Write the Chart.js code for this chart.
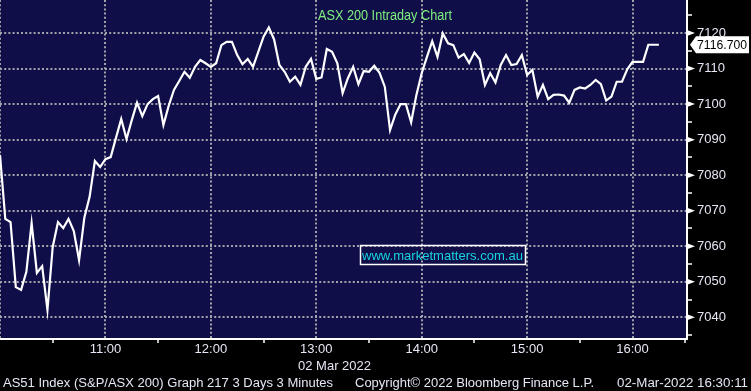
<!DOCTYPE html>
<html>
<head>
<meta charset="utf-8">
<script src="https://cdn.jsdelivr.net/npm/chart.js@4.4.1/dist/chart.umd.min.js"></script>
<style>
  html, body { margin: 0; padding: 0; background: #000; }
  canvas { display: block; }
</style>
</head>
<body>
<canvas id="chart" width="751" height="391"></canvas>
<script>
// AS51 intraday, 3 minute bars from 10:00
const startMinute = 10 * 60;
const barMinutes = 3;
const closes = [
  7085.7, 7067.7, 7066.8, 7048.5, 7047.7, 7052.8, 7066.5, 7052.5, 7054.4, 7042.1,
  7059.8, 7066.8, 7065.1, 7067.7, 7064.3, 7056.1, 7068.0, 7073.9, 7084.0, 7082.3,
  7084.5, 7085.1, 7090.5, 7095.8, 7090.2, 7095.5, 7100.4, 7096.6, 7100.0, 7101.4,
  7102.3, 7094.1, 7099.5, 7104.0, 7106.5, 7109.1, 7107.4, 7110.5, 7112.4, 7111.5,
  7110.5, 7111.5, 7116.6, 7117.5, 7117.5, 7113.8, 7111.2, 7112.7, 7110.5, 7114.7,
  7119.0, 7121.6, 7118.2, 7111.0, 7109.1, 7106.3, 7107.7, 7105.4, 7110.5, 7112.7,
  7107.1, 7107.5, 7115.5, 7114.7, 7111.5, 7103.1, 7107.3, 7110.5, 7105.6, 7109.3,
  7109.1, 7110.8, 7108.8, 7104.9, 7092.7, 7097.1, 7100.0, 7100.0, 7094.9, 7102.6,
  7108.7, 7113.3, 7117.7, 7113.3, 7119.9, 7117.1, 7116.6, 7113.1, 7114.1, 7111.6,
  7114.5, 7112.6, 7105.4, 7108.7, 7106.1, 7111.0, 7113.8, 7111.0, 7111.3, 7113.8,
  7108.2, 7109.6, 7102.1, 7105.4, 7101.4, 7102.6, 7102.7, 7102.4, 7100.4, 7104.0,
  7104.7, 7104.4, 7105.4, 7106.8, 7105.6, 7101.0, 7102.1, 7106.3, 7106.3, 7109.8,
  7111.9, 7111.9, 7111.9, 7116.7, 7116.7, 7116.7
];
const hourLabels = ['11:00', '12:00', '13:00', '14:00', '15:00', '16:00'];
const lastValue = '7116.700';

const titleText = 'ASX 200 Intraday Chart';
const watermarkText = 'www.marketmatters.com.au';
const dateText = '02 Mar 2022';
const footerLeft = 'AS51 Index (S&P/ASX 200) Graph 217 3 Days 3 Minutes';
const footerMid = 'Copyright\u00A9 2022 Bloomberg Finance L.P.';
const footerRight = '02-Mar-2022 16:30:11';

const points = closes.map((v, i) => ({ x: startMinute + i * barMinutes, y: v }));

const font = "'Liberation Sans', Arial, sans-serif";
const textColor = '#e6e6f5';
const gridColor = '#a2a2aa';

function fitText(ctx, text, x, y, w) {
  const m = ctx.measureText(text).width;
  ctx.save();
  ctx.translate(x, y);
  ctx.scale(w / m, 1);
  ctx.fillText(text, 0, 0);
  ctx.restore();
}

const decor = {
  id: 'decor',
  beforeDraw(chart) {
    const { ctx, chartArea: a } = chart;
    ctx.save();
    ctx.fillStyle = '#000';
    ctx.fillRect(0, 0, chart.width, chart.height);
    ctx.fillStyle = '#0f0e48';
    ctx.fillRect(a.left, a.top, a.right - a.left, a.bottom - a.top);
    ctx.restore();
  },
  afterDraw(chart) {
    const { ctx, chartArea: a } = chart;
    const ys = chart.scales.y;
    ctx.save();

    // arrow heads on the labelled ticks
    ctx.fillStyle = '#fff';
    ys.ticks.forEach(t => {
      if (t.value % 10 !== 0) return;
      const py = ys.getPixelForValue(t.value);
      ctx.beginPath();
      ctx.moveTo(a.right, py - 3);
      ctx.lineTo(a.right + 8, py);
      ctx.lineTo(a.right, py + 3);
      ctx.closePath();
      ctx.fill();
    });

    // last price tag
    const vy = ys.getPixelForValue(closes[closes.length - 1]);
    ctx.beginPath();
    ctx.moveTo(a.right + 3, vy);
    ctx.lineTo(a.right + 9, vy - 8.5);
    ctx.lineTo(749, vy - 8.5);
    ctx.lineTo(749, vy + 8.5);
    ctx.lineTo(a.right + 9, vy + 8.5);
    ctx.closePath();
    ctx.fillStyle = '#fff';
    ctx.fill();
    ctx.fillStyle = '#000';
    ctx.font = '13px ' + font;
    ctx.textBaseline = 'middle';
    fitText(ctx, lastValue, a.right + 10, vy + 0.5, 50);

    ctx.textBaseline = 'alphabetic';

    // title
    ctx.font = '14px ' + font;
    ctx.fillStyle = '#7fee7f';
    fitText(ctx, titleText, 318, 20, 134);

    // watermark box
    ctx.strokeStyle = '#fff';
    ctx.lineWidth = 1.5;
    ctx.strokeRect(360.5, 245.5, 165, 19);
    ctx.font = '13px ' + font;
    ctx.fillStyle = '#19d3e0';
    fitText(ctx, watermarkText, 362, 260, 161);

    // date under axis and footer
    ctx.fillStyle = textColor;
    ctx.font = '13px ' + font;
    fitText(ctx, dateText, 298, 370, 73);
    ctx.font = '12px ' + font;
    fitText(ctx, footerLeft, 3, 387, 330);
    fitText(ctx, footerMid, 355, 387, 239);
    fitText(ctx, footerRight, 617, 387, 131);

    ctx.restore();
  }
};

new Chart(document.getElementById('chart'), {
  type: 'line',
  data: {
    datasets: [{
      data: points,
      borderColor: '#ffffff',
      borderWidth: 2.2,
      pointRadius: 0,
      tension: 0,
      fill: false
    }]
  },
  options: {
    responsive: false,
    animation: false,
    devicePixelRatio: 1,
    layout: { padding: 0 },
    plugins: { legend: { display: false }, tooltip: { enabled: false } },
    scales: {
      x: {
        type: 'linear',
        min: 600,
        max: 991,
        afterFit: s => { s.height = 52; s.paddingLeft = 0; s.paddingRight = 0; },
        ticks: {
          stepSize: 30,
          includeBounds: false,
          autoSkip: false,
          maxRotation: 0,
          padding: -1,
          color: textColor,
          font: { family: font, size: 13 },
          callback: v => {
            const i = v / 60 - 11;
            return (v % 60 === 0 && i >= 0) ? hourLabels[i] : '';
          }
        },
        grid: {
          lineWidth: 2,
          tickLength: 4,
          tickWidth: 1.5,
          color: c => (c.tick && c.tick.value % 60 === 0) ? gridColor : 'transparent',
          tickColor: c => (c.tick && c.tick.value % 60 !== 0) ? '#fff' : 'transparent'
        },
        border: { display: true, color: '#fff', width: 2, dash: [2, 2.2] }
      },
      y: {
        position: 'right',
        min: 7033.9,
        max: 7129.3,
        afterFit: s => { s.width = 64; s.paddingTop = 0; s.paddingBottom = 0; },
        ticks: {
          stepSize: 5,
          includeBounds: false,
          autoSkip: false,
          padding: 5,
          color: textColor,
          font: { family: font, size: 13 },
          callback: v => (v % 10 === 0 ? String(v) : '')
        },
        grid: {
          lineWidth: 2,
          tickLength: 5,
          tickWidth: 1.5,
          color: c => (c.tick && c.tick.value % 10 === 0) ? gridColor : 'transparent',
          tickColor: c => (c.tick && c.tick.value % 10 !== 0) ? '#fff' : 'transparent'
        },
        border: { display: true, color: '#fff', width: 2, dash: [2, 2.2] }
      }
    }
  },
  plugins: [decor]
});
</script>
</body>
</html>
